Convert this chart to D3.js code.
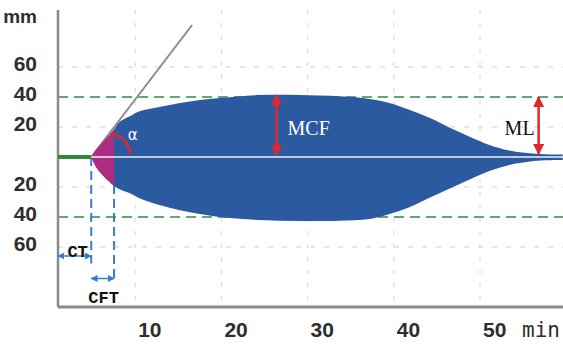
<!DOCTYPE html>
<html>
<head>
<meta charset="UTF-8" />
<script src="https://cdn.jsdelivr.net/npm/d3@7"></script>
<style>
  body { margin: 0; background: #fff; }
  svg { display: block; }
</style>
</head>
<body>
<div id="chart"></div>
<script>
// trace envelope (minutes, mm above / below baseline)
const time  = [4.9, 5.5, 6.2, 7.5, 8.2, 9.5, 10.5, 12.8, 15.2, 17.5, 19.8, 24.4, 29, 33.7, 37.2, 39.5, 41.8, 44.2, 46.5, 48.8, 51.1, 53.4, 55.8, 57.5, 59.6];
const upper = [0, 5, 9.5, 18, 23.5, 27.5, 30.5, 33.3, 36, 38, 39.3, 41.3, 41.3, 40.5, 38.7, 36, 31.5, 26, 19.5, 13.5, 8, 4.3, 2.5, 1.8, 1.6];
const lower = [0, 7, 12, 19, 21.5, 24.5, 27.5, 32, 35.5, 38, 40, 42, 42.7, 42.5, 41.3, 38, 33.5, 27, 21, 15, 9.3, 5.3, 3, 2.2, 2];

const xTicks = [10, 20, 30, 40, 50];
const yTicks = [60, 40, 20, -20, -40, -60];
const refLines = [40, -40];

const ct = 4.9, cftEnd = 7.55;
const mcfTime = 26.4, mcf = 41.3;
const mlTime = 56.8, ml = 40;
const tangentEnd = [16.6, 88];

const w = 563, h = 344;
const x = d3.scaleLinear().domain([0, 50]).range([49, 480]);
const y = d3.scaleLinear().domain([-100, 98]).range([307, 10]);
const pLeft = 58, pRight = w, pTop = 10, pBottom = 307;

const svg = d3.select("#chart").append("svg").attr("width", w).attr("height", h);

const defs = svg.append("defs");
function marker(id, color, size) {
  defs.append("marker").attr("id", id)
    .attr("viewBox", "0 0 10 10").attr("refX", 9).attr("refY", 5)
    .attr("markerWidth", size).attr("markerHeight", size)
    .attr("markerUnits", "userSpaceOnUse")
    .attr("orient", "auto-start-reverse")
    .append("path").attr("d", "M0,0 L10,5 L0,10 z").attr("fill", color);
}
marker("red", "#e3262b", 11);
marker("blue", "#3b7cc8", 7);

defs.append("clipPath").attr("id", "cftClip").append("rect")
  .attr("x", x(ct) - 1).attr("y", pTop).attr("width", x(cftEnd) - x(ct) + 1).attr("height", pBottom - pTop);

// faint grid
svg.append("g").selectAll("line").data(xTicks).join("line")
  .attr("x1", d => x(d)).attr("x2", d => x(d)).attr("y1", pTop).attr("y2", pBottom)
  .attr("stroke", "#d4d4d4").attr("stroke-width", 1).attr("stroke-dasharray", "4,9");
svg.append("g").selectAll("line").data(yTicks.filter(d => Math.abs(d) !== 40)).join("line")
  .attr("x1", pLeft).attr("x2", pRight).attr("y1", d => y(d)).attr("y2", d => y(d))
  .attr("stroke", "#d0d0d0").attr("stroke-width", 1.2).attr("stroke-dasharray", "5,9");
svg.append("g").selectAll("line").data(refLines).join("line")
  .attr("x1", pLeft).attr("x2", pRight).attr("y1", d => y(d)).attr("y2", d => y(d))
  .attr("stroke", "#62a877").attr("stroke-width", 2).attr("stroke-dasharray", "10,6");

// axes
svg.append("line").attr("x1", pLeft).attr("x2", pLeft).attr("y1", pTop).attr("y2", pBottom)
  .attr("stroke", "#8a8a8a").attr("stroke-width", 2.5);
svg.append("line").attr("x1", pLeft).attr("x2", pRight).attr("y1", pBottom).attr("y2", pBottom)
  .attr("stroke", "#8a8a8a").attr("stroke-width", 3);

// CT / CFT dashed markers
[[ct, -71], [cftEnd, -84]].forEach(([t, v]) => {
  svg.append("line").attr("x1", x(t)).attr("x2", x(t)).attr("y1", y(0)).attr("y2", y(v))
    .attr("stroke", "#3b7cc8").attr("stroke-width", 2).attr("stroke-dasharray", "9,5");
});

// alpha tangent
svg.append("line").attr("x1", x(ct)).attr("y1", y(0))
  .attr("x2", x(tangentEnd[0])).attr("y2", y(tangentEnd[1]))
  .attr("stroke", "#8c8c8c").attr("stroke-width", 2);

// trace
const pts = time.map((t, i) => ({ t, u: upper[i], l: lower[i] }));
const area = d3.area().curve(d3.curveCatmullRom.alpha(0.5))
  .x(d => x(d.t)).y0(d => y(-d.l)).y1(d => y(d.u));
svg.append("path").datum(pts).attr("d", area).attr("fill", "#2c5aa0");
svg.append("path").datum(pts).attr("d", area).attr("fill", "#ad2c80")
  .attr("clip-path", "url(#cftClip)");

// baseline
svg.append("line").attr("x1", pLeft).attr("x2", x(ct)).attr("y1", y(0)).attr("y2", y(0))
  .attr("stroke", "#2f8a3c").attr("stroke-width", 4);
svg.append("line").attr("x1", x(ct)).attr("x2", pRight).attr("y1", y(0)).attr("y2", y(0))
  .attr("stroke", "#eef2fa").attr("stroke-width", 1.5);

// alpha arc
const cx = x(6.7), cy = y(0), r = 24;
const p = d3.path();
p.moveTo(cx + r * Math.cos(-1.38), cy + r * Math.sin(-1.38));
p.arc(cx, cy, r, -1.38, -0.12, false);
svg.append("path").attr("d", p.toString()).attr("fill", "none")
  .attr("stroke", "#e3262b").attr("stroke-width", 2.5);
svg.append("text").attr("x", cx + 21).attr("y", cy - 17).text("α")
  .attr("fill", "#fff").attr("font-family", "DejaVu Sans").attr("font-size", 15);

// red arrows
[[mcfTime, mcf, 1.5], [mlTime, ml, 2]].forEach(([t, v, b]) => {
  svg.append("line").attr("x1", x(t)).attr("x2", x(t)).attr("y1", y(v)).attr("y2", y(b))
    .attr("stroke", "#e3262b").attr("stroke-width", 2.5)
    .attr("marker-start", "url(#red)").attr("marker-end", "url(#red)");
});
svg.append("text").attr("x", x(mcfTime) + 11).attr("y", y(15)).text("MCF")
  .attr("fill", "#fff").attr("font-family", "Liberation Serif").attr("font-size", 20);
svg.append("text").attr("x", x(mlTime) - 4).attr("y", y(15)).attr("text-anchor", "end").text("ML")
  .attr("fill", "#111").attr("font-family", "Liberation Serif").attr("font-size", 20);

// blue interval arrows
[[x.invert(pLeft), ct, -66, "CT", 257], [ct, cftEnd, -81, "CFT", 303]].forEach(([a, b, v, lab, ty]) => {
  svg.append("line").attr("x1", x(a)).attr("x2", x(b)).attr("y1", y(v)).attr("y2", y(v))
    .attr("stroke", "#3b7cc8").attr("stroke-width", 1.5)
    .attr("marker-start", "url(#blue)").attr("marker-end", "url(#blue)");
  svg.append("text").attr("x", (x(a) + x(b)) / 2 + (lab === "CT" ? 3 : 1)).attr("y", ty)
    .attr("text-anchor", "middle").text(lab)
    .attr("fill", "#111").attr("font-family", "Liberation Mono").attr("font-weight", "bold").attr("font-size", 17);
});

// tick labels
svg.append("g").selectAll("text").data(yTicks).join("text")
  .attr("x", 37).attr("y", d => y(d) - 3).attr("dy", "0.35em").attr("text-anchor", "end")
  .text(d => Math.abs(d))
  .attr("fill", "#2e2e2e").attr("font-family", "Liberation Sans").attr("font-weight", "bold").attr("font-size", 21);
svg.append("text").attr("x", 37).attr("y", 23).attr("text-anchor", "end").text("mm")
  .attr("fill", "#2e2e2e").attr("font-family", "Liberation Sans").attr("font-weight", "bold").attr("font-size", 19);
svg.append("g").selectAll("text").data(xTicks).join("text")
  .attr("x", d => x(d) + 3).attr("y", 337).text(d => d)
  .attr("fill", "#2e2e2e").attr("font-family", "Liberation Sans").attr("font-weight", "bold").attr("font-size", 21);
svg.append("text").attr("x", 522).attr("y", 337).text("min")
  .attr("fill", "#2e2e2e").attr("font-family", "DejaVu Sans Mono").attr("font-size", 21);
</script>
</body>
</html>
